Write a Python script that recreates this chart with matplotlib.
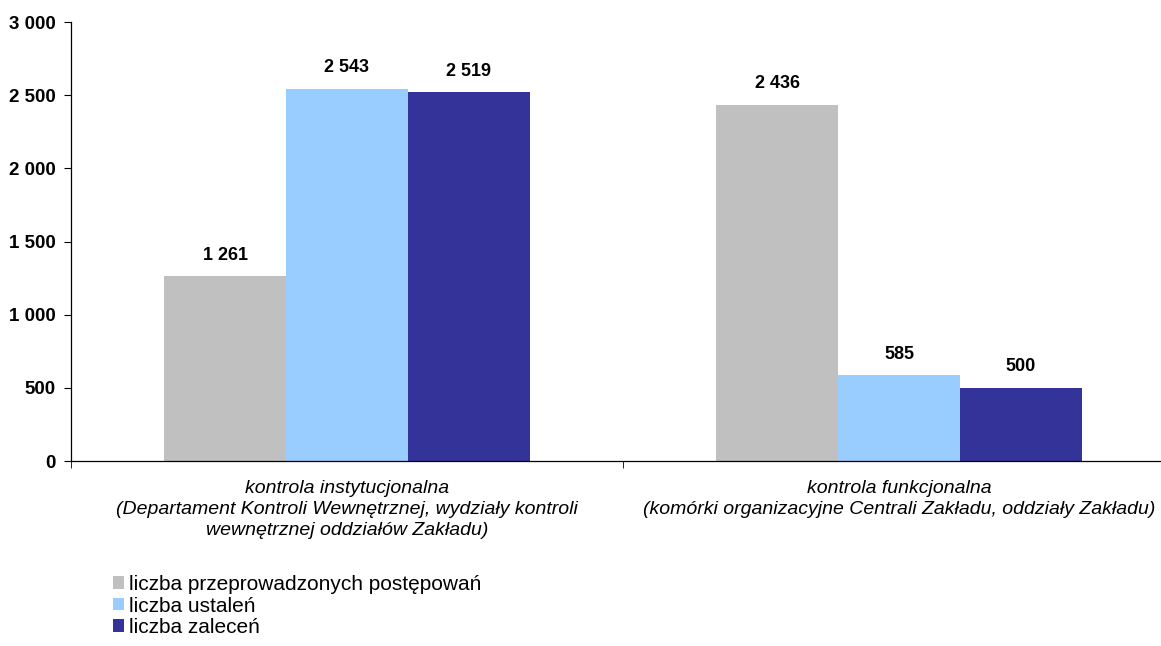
import matplotlib
matplotlib.use("Agg")
import matplotlib.pyplot as plt
import numpy as np

plt.rcParams['font.family'] = ['Liberation Sans', 'DejaVu Sans']

categories = [
    "kontrola instytucjonalna\n(Departament Kontroli Wewnętrznej, wydziały kontroli\nwewnętrznej oddziałów Zakładu)",
    "kontrola funkcjonalna\n(komórki organizacyjne Centrali Zakładu, oddziały Zakładu)",
]
series_names = [
    "liczba przeprowadzonych postępowań",
    "liczba ustaleń",
    "liczba zaleceń",
]
postepowania = [1261, 2436]
ustalenia = [2543, 585]
zalecenia = [2519, 500]
colors = ["#C0C0C0", "#99CCFF", "#333399"]
y_ticks = [0, 500, 1000, 1500, 2000, 2500, 3000]


def fmt(v):
    return f"{v:,}".replace(",", " ")


fig = plt.figure(figsize=(11.61, 6.46), dpi=100)
ax = fig.add_axes([71 / 1161, 185 / 646, 1104 / 1161, 439 / 646])

x = np.arange(len(categories))
width = 0.221
all_series = [postepowania, ustalenia, zalecenia]
for i, (vals, name, col) in enumerate(zip(all_series, series_names, colors)):
    bars = ax.bar(x + (i - 1) * width, vals, width, color=col, label=name)
    for b, v in zip(bars, vals):
        ax.annotate(fmt(v), (b.get_x() + b.get_width() / 2, v),
                    xytext=(0, 9), textcoords="offset points",
                    ha="center", va="bottom", fontsize=13, fontweight="bold")

ax.set_xlim(-0.5, 1.5)
ax.set_ylim(0, 3000)
ax.set_yticks(y_ticks)
ax.set_yticklabels([fmt(t) for t in y_ticks], fontsize=13.5, fontweight="bold")
ax.set_xticks(x)
ax.set_xticklabels(categories, fontsize=14, style="italic", linespacing=1.28)
ax.tick_params(axis="x", length=0, pad=14)
ax.set_xticks([-0.5, 0.5, 1.5], minor=True)
ax.tick_params(axis="x", which="minor", length=5, direction="out")
ax.tick_params(axis="y", length=5, direction="out", pad=6)

for s in ["top", "right"]:
    ax.spines[s].set_visible(False)
ax.spines["left"].set_linewidth(0.9)
ax.spines["bottom"].set_linewidth(0.9)

handles, labels = ax.get_legend_handles_labels()
fig.legend(handles, labels, loc="upper left", bbox_to_anchor=(113 / 1161, 1 - 575 / 646),
           frameon=False, fontsize=15, handlelength=0.53, handleheight=0.53,
           handletextpad=0.25, labelspacing=0.12, borderaxespad=0, borderpad=0)

fig.savefig("out.png", dpi=100)
